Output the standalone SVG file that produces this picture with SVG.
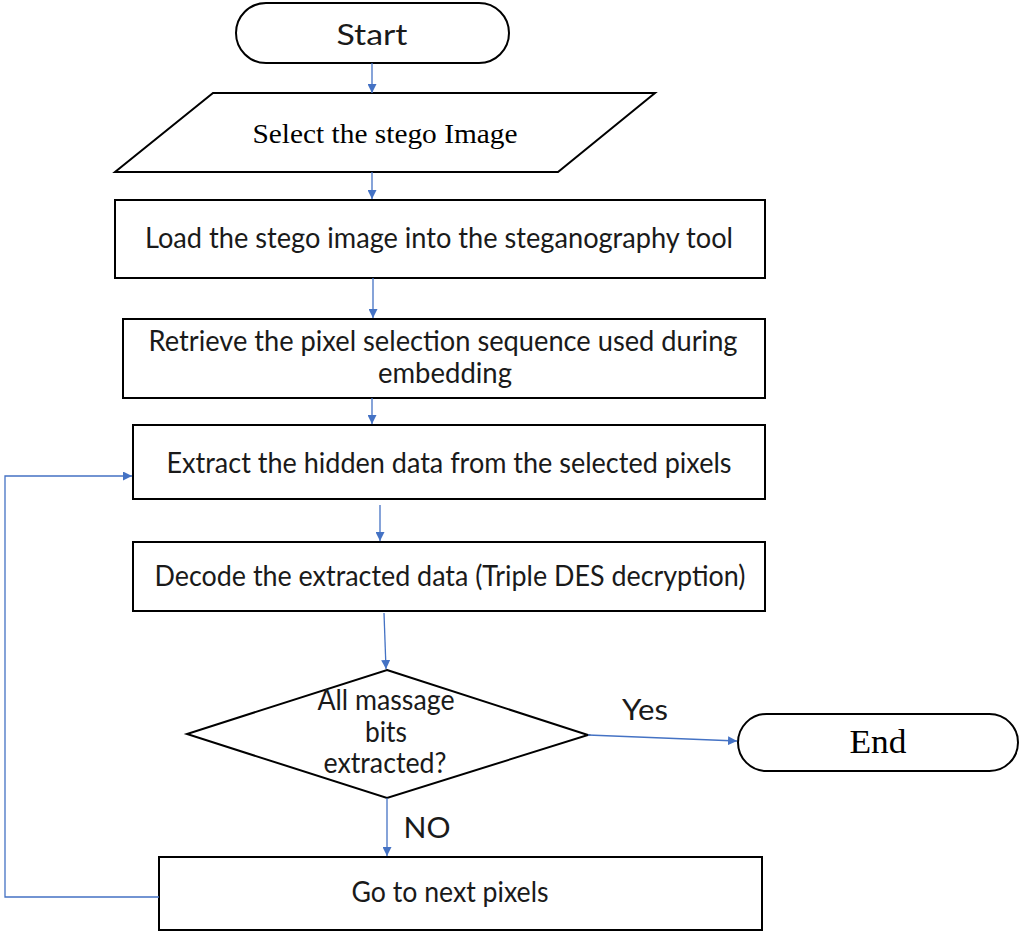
<svg xmlns="http://www.w3.org/2000/svg" width="1021" height="932" viewBox="0 0 1021 932">
  <style>
    .shape { fill: #ffffff; stroke: #000000; stroke-width: 2; }
    .lbl { font-family: Lato, "Open Sans", "Liberation Sans", sans-serif; font-size: 28px; fill: #1a1a1a; text-anchor: middle; }
    .serif { font-family: "Liberation Serif", "Times New Roman", serif; fill: #000000; text-anchor: middle; }
    .flow { fill: none; stroke: #4472C4; stroke-width: 1.3; }
  </style>
  <defs>
    <marker id="arrow" viewBox="0 0 10 10" refX="10" refY="5" markerWidth="9" markerHeight="9" markerUnits="userSpaceOnUse" orient="auto">
      <path d="M0,0 L10,5 L0,10 z" fill="#4472C4"/>
    </marker>
  </defs>
  <rect width="1021" height="932" fill="#ffffff"/>

  <g id="start">
    <rect class="shape" x="236" y="3" width="273" height="60" rx="30" ry="30"/>
    <text class="lbl" x="372" y="45" font-size="34" textLength="71" lengthAdjust="spacingAndGlyphs">Start</text>
  </g>

  <g id="select-image">
    <polygon class="shape" points="213,93 655,93 558,172 115,172"/>
    <text class="serif" x="385" y="143" font-size="28" textLength="265" lengthAdjust="spacingAndGlyphs">Select the stego Image</text>
  </g>

  <g id="load-image">
    <rect class="shape" x="115" y="200" width="650" height="78"/>
    <text class="lbl" x="439" y="248" textLength="588" lengthAdjust="spacingAndGlyphs">Load the stego image into the steganography tool</text>
  </g>

  <g id="retrieve-sequence">
    <rect class="shape" x="123" y="319" width="642" height="79"/>
    <text class="lbl" x="443" y="351" textLength="589" lengthAdjust="spacingAndGlyphs">Retrieve the pixel selection sequence used during</text>
    <text class="lbl" x="445" y="383" textLength="134" lengthAdjust="spacingAndGlyphs">embedding</text>
  </g>

  <g id="extract-data">
    <rect class="shape" x="133" y="425" width="632" height="74"/>
    <text class="lbl" x="449" y="473" textLength="565" lengthAdjust="spacingAndGlyphs">Extract the hidden data from the selected pixels</text>
  </g>

  <g id="decode-data">
    <rect class="shape" x="133" y="542" width="632" height="69"/>
    <text class="lbl" x="450" y="586" textLength="591" lengthAdjust="spacingAndGlyphs">Decode the extracted data (Triple DES decryption)</text>
  </g>

  <g id="all-bits-check">
    <polygon class="shape" points="387,670 588,735 387,798 187,734"/>
    <text class="lbl" x="386" y="710" textLength="137" lengthAdjust="spacingAndGlyphs">All massage</text>
    <text class="lbl" x="386" y="742" textLength="42" lengthAdjust="spacingAndGlyphs">bits</text>
    <text class="lbl" x="385" y="773" textLength="123" lengthAdjust="spacingAndGlyphs">extracted?</text>
  </g>

  <g id="end">
    <rect class="shape" x="738" y="714" width="280" height="57" rx="28.5" ry="28.5"/>
    <text class="serif" x="878" y="753" font-size="34" textLength="57" lengthAdjust="spacingAndGlyphs">End</text>
  </g>

  <g id="next-pixels">
    <rect class="shape" x="159" y="857" width="603" height="73"/>
    <text class="lbl" x="450" y="902" textLength="197" lengthAdjust="spacingAndGlyphs">Go to next pixels</text>
  </g>

  <g id="connectors">
    <line class="flow" x1="372" y1="63" x2="372" y2="93" marker-end="url(#arrow)"/>
    <line class="flow" x1="372" y1="172" x2="372" y2="199" marker-end="url(#arrow)"/>
    <line class="flow" x1="373" y1="278" x2="373" y2="318" marker-end="url(#arrow)"/>
    <line class="flow" x1="372" y1="398" x2="372" y2="424" marker-end="url(#arrow)"/>
    <line class="flow" x1="380" y1="505" x2="380" y2="541" marker-end="url(#arrow)"/>
    <line class="flow" x1="384" y1="613" x2="386" y2="669" marker-end="url(#arrow)"/>
    <line class="flow" x1="588" y1="735" x2="737" y2="741" marker-end="url(#arrow)"/>
    <line class="flow" x1="387" y1="798" x2="387" y2="856" marker-end="url(#arrow)"/>
    <polyline class="flow" points="159,897 5,897 5,476 132,476" marker-end="url(#arrow)"/>
    <text class="lbl" x="645" y="720" font-size="31" textLength="46" lengthAdjust="spacingAndGlyphs">Yes</text>
    <text class="lbl" x="427" y="838" font-size="34" textLength="47" lengthAdjust="spacingAndGlyphs">NO</text>
  </g>
</svg>
